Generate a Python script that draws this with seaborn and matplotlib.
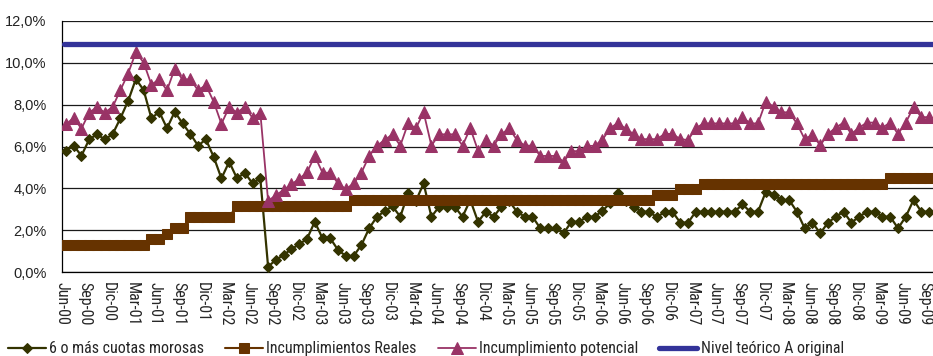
import matplotlib
matplotlib.use("Agg")
import matplotlib.pyplot as plt
from matplotlib import font_manager
from matplotlib.font_manager import FontProperties
import pandas as pd
import seaborn as sns

# ---------------------------------------------------------------- data
meses_es = ["Ene", "Feb", "Mar", "Abr", "May", "Jun",
            "Jul", "Ago", "Sep", "Oct", "Nov", "Dic"]
# monthly categories Jun-00 ... Sep-09
meses = [f"{meses_es[(5 + k) % 12]}-{(2000 + (5 + k) // 12) % 100:02d}" for k in range(112)]

etiquetas_x = ["Jun-00", "Sep-00", "Dic-00", "Mar-01", "Jun-01", "Sep-01", "Dic-01", "Mar-02",
               "Jun-02", "Sep-02", "Dic-02", "Mar-03", "Jun-03", "Sep-03", "Dic-03", "Mar-04",
               "Jun-04", "Sep-04", "Dic-04", "Mar-05", "Jun-05", "Sep-05", "Dic-05", "Mar-06",
               "Jun-06", "Sep-06", "Dic-06", "Mar-07", "Jun-07", "Sep-07", "Dic-07", "Mar-08",
               "Jun-08", "Sep-08", "Dic-08", "Mar-09", "Jun-09", "Sep-09"]

etiquetas_y = ["0,0%", "2,0%", "4,0%", "6,0%", "8,0%", "10,0%", "12,0%"]
valores_y = [0, 2, 4, 6, 8, 10, 12]

cuotas_morosas = [
    5.80, 6.04, 5.56, 6.34, 6.58, 6.34, 6.58, 7.34, 8.17, 9.22,
    8.69, 7.34, 7.66, 6.87, 7.66, 7.10, 6.60, 6.04, 6.34, 5.51,
    4.48, 5.27, 4.48, 4.75, 4.24, 4.48, 0.27, 0.59, 0.83, 1.10,
    1.34, 1.59, 2.41, 1.62, 1.62, 1.06, 0.78, 0.78, 1.30, 2.10,
    2.65, 2.92, 3.15, 2.65, 3.77, 3.40, 4.24, 2.65, 3.13, 3.13,
    3.13, 2.65, 3.45, 2.41, 2.89, 2.65, 3.13, 3.40, 2.89, 2.65,
    2.65, 2.10, 2.10, 2.10, 1.86, 2.41, 2.41, 2.65, 2.65, 2.94,
    3.30, 3.77, 3.40, 3.13, 2.89, 2.89, 2.62, 2.89, 2.89, 2.37,
    2.37, 2.89, 2.89, 2.89, 2.89, 2.89, 2.89, 3.24, 2.89, 2.89,
    3.84, 3.69, 3.45, 3.45, 2.89, 2.10, 2.37, 1.86, 2.37, 2.65,
    2.89, 2.37, 2.65, 2.89, 2.89, 2.65, 2.65, 2.10, 2.65, 3.45,
    2.89, 2.89,
]

incumplimientos_reales = [
    1.30, 1.30, 1.30, 1.30, 1.30, 1.30, 1.30, 1.30, 1.30, 1.30,
    1.30, 1.57, 1.57, 1.81, 2.10, 2.10, 2.64, 2.64, 2.64, 2.64,
    2.64, 2.64, 3.18, 3.18, 3.18, 3.18, 3.18, 3.18, 3.18, 3.18,
    3.18, 3.18, 3.18, 3.18, 3.18, 3.18, 3.18, 3.45, 3.45, 3.45,
    3.45, 3.45, 3.45, 3.45, 3.45, 3.45, 3.45, 3.45, 3.45, 3.45,
    3.45, 3.45, 3.45, 3.45, 3.45, 3.45, 3.45, 3.45, 3.45, 3.45,
    3.45, 3.45, 3.45, 3.45, 3.45, 3.45, 3.45, 3.45, 3.45, 3.45,
    3.45, 3.45, 3.45, 3.45, 3.45, 3.45, 3.70, 3.70, 3.70, 3.99,
    3.99, 3.99, 4.23, 4.23, 4.23, 4.23, 4.23, 4.23, 4.23, 4.23,
    4.23, 4.23, 4.23, 4.23, 4.23, 4.23, 4.23, 4.23, 4.23, 4.23,
    4.23, 4.23, 4.23, 4.23, 4.23, 4.23, 4.50, 4.50, 4.50, 4.50,
    4.50, 4.50,
]

incumplimiento_potencial = [
    7.05, 7.37, 6.85, 7.62, 7.88, 7.62, 7.88, 8.68, 9.48, 10.50,
    10.00, 8.95, 9.20, 8.68, 9.71, 9.20, 9.20, 8.68, 8.93, 8.14,
    7.08, 7.88, 7.62, 7.88, 7.37, 7.62, 3.41, 3.67, 3.93, 4.19,
    4.46, 4.76, 5.55, 4.75, 4.75, 4.24, 3.96, 4.24, 4.75, 5.55,
    6.04, 6.31, 6.58, 6.04, 7.10, 6.87, 7.63, 6.04, 6.58, 6.58,
    6.58, 6.04, 6.87, 5.80, 6.31, 6.04, 6.58, 6.87, 6.31, 6.04,
    6.04, 5.55, 5.55, 5.55, 5.27, 5.78, 5.78, 6.03, 6.03, 6.33,
    6.87, 7.14, 6.83, 6.60, 6.35, 6.35, 6.35, 6.60, 6.60, 6.35,
    6.31, 6.87, 7.10, 7.10, 7.10, 7.10, 7.10, 7.39, 7.10, 7.10,
    8.14, 7.90, 7.63, 7.63, 7.10, 6.35, 6.56, 6.05, 6.60, 6.90,
    7.14, 6.60, 6.90, 7.14, 7.14, 6.90, 7.14, 6.60, 7.14, 7.88,
    7.40, 7.40,
]

nivel_teorico = 10.9

# ---------------------------------------------------------------- fonts
sns.set_style("white")
instaladas = {f.name for f in font_manager.fontManager.ttflist}


def elegir(*nombres):
    for n in nombres:
        if n in instaladas:
            return n
    return None


fam_estrecha = elegir("Liberation Sans Narrow", "Arial Narrow", "Roboto Condensed",
                      "Open Sans Condensed")
if fam_estrecha:
    fuente_estrecha = FontProperties(family=fam_estrecha)
else:
    fuente_estrecha = FontProperties(family="DejaVu Sans", stretch="condensed")
fam_normal = elegir("Liberation Sans", "Arial") or "DejaVu Sans"
plt.rcParams["font.family"] = [fam_normal, "DejaVu Sans"]

# ---------------------------------------------------------------- frame
df = pd.DataFrame({
    "mes": meses,
    "pos": [k + 0.5 for k in range(len(meses))],
    "morosas": cuotas_morosas,
    "reales": incumplimientos_reales,
    "potencial": incumplimiento_potencial,
})

fig = plt.figure(figsize=(9.33, 3.56), dpi=100)
ax = fig.add_axes([62 / 933, (356 - 272.3) / 356, (933 - 62) / 933, (272.3 - 20.7) / 356])

c_morosas = "#333300"
c_reales = "#663300"
c_potencial = "#993366"
c_nivel = "#333399"

sns.lineplot(data=df, x="pos", y="morosas", ax=ax, color=c_morosas, linewidth=1.6,
             marker="D", markersize=5.6, markeredgecolor=c_morosas, markerfacecolor=c_morosas,
             label="6 o más cuotas morosas", zorder=3)
sns.lineplot(data=df, x="pos", y="reales", ax=ax, color=c_reales, linewidth=1.5,
             marker="s", markersize=7.4, markeredgecolor=c_reales, markerfacecolor=c_reales,
             label="Incumplimientos Reales", zorder=4)
sns.lineplot(data=df, x="pos", y="potencial", ax=ax, color=c_potencial, linewidth=1.3,
             marker="^", markersize=8, markeredgecolor=c_potencial, markerfacecolor=c_potencial,
             label="Incumplimiento potencial", zorder=5)
ax.axhline(nivel_teorico, xmin=0.3 / 112, xmax=1, color=c_nivel, linewidth=3.8,
           solid_capstyle="round", label="Nivel teórico A original", zorder=6)

# ---------------------------------------------------------------- axes
ax.set_xlim(0, len(meses))
ax.set_ylim(0, 12)
ax.set_xticks(range(0, len(meses), 3))
ax.set_xticklabels(etiquetas_x, rotation=-90, ha="center", va="top",
                   fontproperties=fuente_estrecha, fontsize=11.5)
ax.set_yticks(valores_y)
ax.set_yticklabels(etiquetas_y, fontsize=10.5, color="#222222")
ax.set_xlabel("")
ax.set_ylabel("")

ax.yaxis.grid(True, color="#1a1a1a", linewidth=0.9)
ax.xaxis.grid(False)
ax.set_axisbelow(True)
for lado in ("top", "right"):
    ax.spines[lado].set_visible(False)
for lado in ("left", "bottom"):
    ax.spines[lado].set_color("black")
    ax.spines[lado].set_linewidth(0.9)
ax.tick_params(axis="x", direction="out", length=4, width=0.9, color="black", pad=3)
ax.tick_params(axis="y", direction="out", length=3, width=0.9, color="black", pad=8)

# ---------------------------------------------------------------- legend
if ax.get_legend():
    ax.get_legend().remove()
handles, labels = ax.get_legend_handles_labels()
leg_font = fuente_estrecha.copy()
leg_font.set_size(11.5)
fig.legend(handles, labels, loc="lower left", bbox_to_anchor=(6 / 933, -0.005),
           ncol=4, frameon=False, prop=leg_font, handlelength=2.4, handletextpad=0.2,
           columnspacing=1.3, borderpad=0.1, borderaxespad=0)

fig.savefig("out.png", dpi=100)
